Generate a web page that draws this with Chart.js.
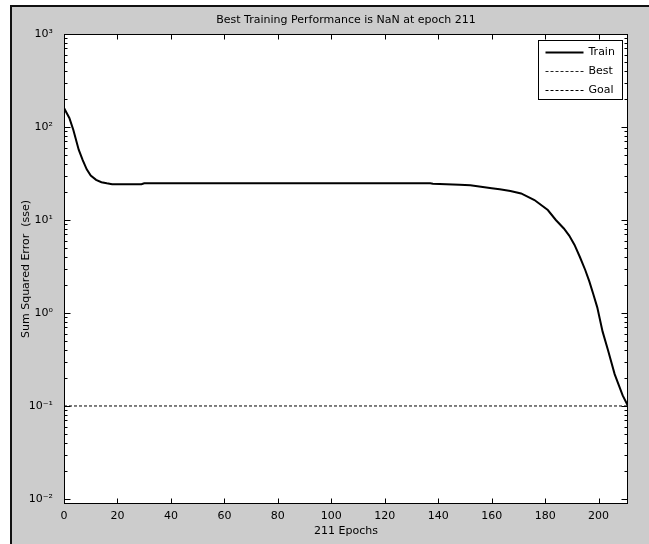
<!DOCTYPE html>
<html>
<head>
<meta charset="utf-8">
<title>Best Training Performance</title>
<script src="https://cdn.jsdelivr.net/npm/chart.js@4/dist/chart.umd.min.js"></script>
<style>
  html, body { margin: 0; padding: 0; background: #fff; }
  canvas { display: block; }
</style>
</head>
<body>
<canvas id="chart" width="649" height="544"></canvas>
<script>
// ---------- data ----------
const epochs = [0, 2, 3.5, 5.5, 7, 8.5, 10, 12, 14, 16, 18, 29, 30, 137, 138, 148, 152, 156, 160, 163, 167, 171, 176, 181, 184, 187, 189, 191, 193, 195, 196.5, 198, 199.5, 201.5, 203.5, 206, 209, 211];
const trainSse = [160, 125, 93, 57, 44, 35, 30, 27, 25.5, 24.8, 24.2, 24.2, 24.8, 24.8, 24.5, 24.0, 23.6, 22.8, 22.0, 21.4, 20.5, 19.3, 16.4, 12.8, 10.0, 8.1, 6.8, 5.4, 4.0, 2.9, 2.2, 1.6, 1.15, 0.63, 0.40, 0.22, 0.13, 0.1];
const goalEpochs = [0, 211];
const goalSse = [0.1, 0.1];
const bestSse = []; // NaN -> nothing drawn

const xTicks = [0, 20, 40, 60, 80, 100, 120, 140, 160, 180, 200];
const yTicks = [0.01, 0.1, 1, 10, 100, 1000];
const yTickLabels = ['10\u207B\u00B2', '10\u207B\u00B9', '10\u2070', '10\u00B9', '10\u00B2', '10\u00B3'];

const FONT = { family: '"DejaVu Sans", Arial, Helvetica, sans-serif', size: 11, weight: 'normal' };

// @@@@@@@@ frame, inward ticks and legend, MATLAB style @@@@@@@@
const matlabFrame = {
  id: 'matlabFrame',
  beforeDraw(chart) {
    const { ctx, chartArea: a } = chart;
    ctx.save();
    ctx.fillStyle = '#fff';
    ctx.fillRect(0, 0, chart.width, chart.height);
    ctx.fillStyle = '#cccccc';
    ctx.fillRect(10, 5, chart.width - 10, chart.height - 5);
    ctx.fillStyle = '#111';
    ctx.fillRect(10, 5, 2, chart.height - 5);
    ctx.fillRect(10, 5, chart.width - 10, 2);
    ctx.fillStyle = '#fff';
    ctx.fillRect(a.left, a.top, a.right - a.left, a.bottom - a.top);
    ctx.restore();
  },
  afterDraw(chart) {
    const { ctx, chartArea: a, scales } = chart;
    const x = scales.x, y = scales.y;
    const L = Math.round(a.left) + 0.5, R = Math.round(a.right) - 0.5;
    const T = Math.round(a.top) + 0.5, B = Math.round(a.bottom) - 0.5;
    ctx.save();
    ctx.strokeStyle = '#000';
    ctx.lineWidth = 1;
    ctx.strokeRect(L, T, R - L, B - T);

    ctx.beginPath();
    xTicks.forEach((v) => {
      const px = Math.round(x.getPixelForValue(v)) + 0.5;
      ctx.moveTo(px, B); ctx.lineTo(px, B - 5);
      ctx.moveTo(px, T); ctx.lineTo(px, T + 5);
    });
    for (let n = -2; n <= 3; n++) {
      for (let m = 1; m <= 9; m++) {
        const v = m * Math.pow(10, n);
        if (v > 1000) break;
        const py = Math.round(y.getPixelForValue(v)) + 0.5;
        const len = m === 1 ? 6 : 3;
        ctx.moveTo(L, py); ctx.lineTo(L + len, py);
        ctx.moveTo(R, py); ctx.lineTo(R - len, py);
      }
    }
    ctx.stroke();

    // legend box in the upper right corner
    const w = 84, h = 59;
    const lx = Math.round(a.right) - 6 - w + 0.5, ly = Math.round(a.top) + 6 + 0.5;
    ctx.fillStyle = '#fff';
    ctx.fillRect(lx, ly, w, h);
    ctx.strokeRect(lx, ly, w, h);
    ctx.font = FONT.size + 'px ' + FONT.family;
    ctx.textBaseline = 'middle';
    ctx.textAlign = 'left';
    chart.data.datasets.forEach((ds, i) => {
      const ry = Math.round(ly + 11 + i * 19) + 0.5;
      ctx.beginPath();
      ctx.strokeStyle = ds.borderColor;
      ctx.lineWidth = ds.borderWidth;
      ctx.setLineDash(ds.borderDash || []);
      ctx.moveTo(lx + 7, ry);
      ctx.lineTo(lx + 45, ry);
      ctx.stroke();
      ctx.setLineDash([]);
      ctx.fillStyle = '#000';
      ctx.fillText(ds.label, lx + 50, ry);
    });
    ctx.restore();
  }
};

// @@@@@@@@ chart @@@@@@@@
const canvas = document.getElementById('chart').getContext('2d');

new Chart(canvas, {
  type: 'line',
  data: {
    datasets: [
      {
        label: 'Train',
        data: epochs.map((e, i) => ({ x: e, y: trainSse[i] })),
        borderColor: '#000',
        borderWidth: 2,
        pointRadius: 0,
        tension: 0,
      },
      {
        label: 'Best',
        data: bestSse,
        borderColor: '#222',
        borderWidth: 1,
        borderDash: [3, 2],
        pointRadius: 0,
      },
      {
        label: 'Goal',
        data: goalEpochs.map((e, i) => ({ x: e, y: goalSse[i] })),
        borderColor: '#000',
        borderWidth: 1,
        borderDash: [3, 2],
        pointRadius: 0,
      },
    ],
  },
  options: {
    responsive: false,
    animation: false,
    layout: { padding: { left: 0, top: 0, right: 21, bottom: 0 } },
    plugins: {
      legend: { display: false },
      tooltip: { enabled: false },
      title: {
        display: true,
        fullSize: false,
        text: 'Best Training Performance is NaN at epoch 211',
        color: '#000',
        font: FONT,
        padding: { top: 13.4, bottom: 7.4 },
      },
    },
    scales: {
      x: {
        type: 'linear',
        min: 0,
        max: 211,
        afterBuildTicks: (s) => { s.ticks = xTicks.map((v) => ({ value: v })); },
        afterFit: (s) => { s.height = 40; },
        grid: { display: false, drawTicks: false },
        border: { display: false },
        ticks: { padding: 6, color: '#000', font: FONT, maxRotation: 0, autoSkip: false },
        title: { display: true, text: '211 Epochs', color: '#000', font: FONT, padding: { top: 0, bottom: 6 } },
      },
      y: {
        type: 'logarithmic',
        min: Math.pow(10, -2.054),
        max: 1000,
        afterBuildTicks: (s) => { s.ticks = yTicks.map((v) => ({ value: v })); },
        afterFit: (s) => { s.width = 64; },
        grid: { display: false, drawTicks: false },
        border: { display: false },
        ticks: {
          padding: 11,
          color: '#000',
          font: FONT,
          autoSkip: false,
          callback: (v, i) => yTickLabels[i],
        },
        title: {
          display: true,
          text: 'Sum Squared Error  (sse)',
          color: '#000',
          font: FONT,
          padding: { top: 19.5, bottom: 0 },
        },
      },
    },
  },
  plugins: [matlabFrame],
});
</script>
</body>
</html>
